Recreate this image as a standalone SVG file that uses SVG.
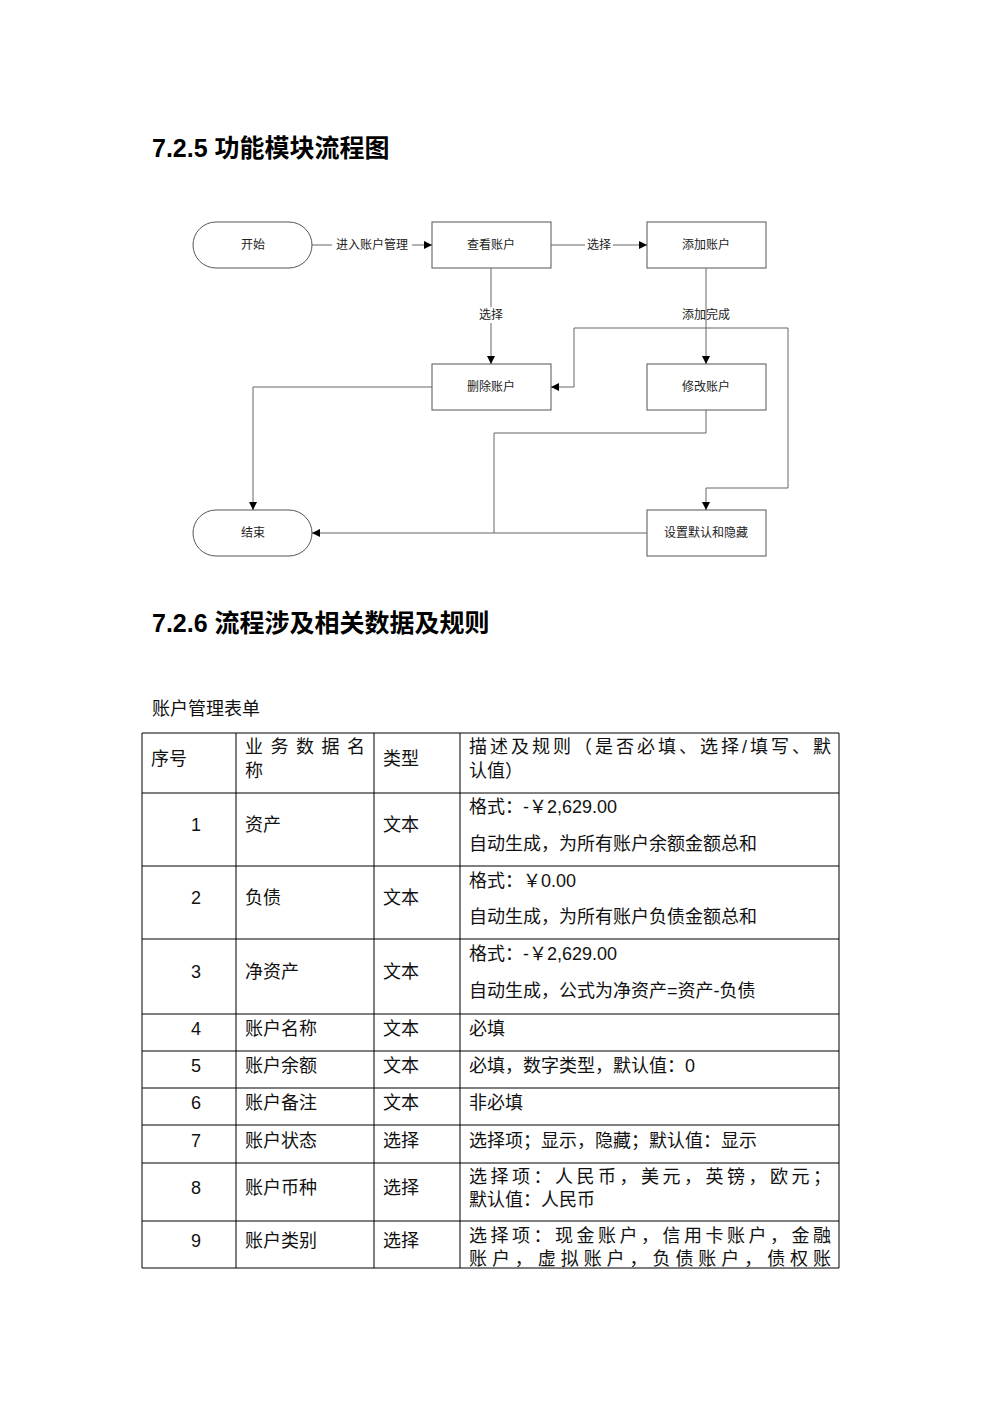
<svg xmlns="http://www.w3.org/2000/svg" width="1000" height="1415" viewBox="0 0 1000 1415">
<style>
.n{fill:#fff;stroke:#555;stroke-width:1}
.nt{font-family:"Liberation Serif","Noto Sans CJK SC",serif;font-size:12px;text-anchor:middle;fill:#222}
.c{fill:none;stroke:#666;stroke-width:1}
.lb{font-family:"Liberation Serif","Noto Sans CJK SC",serif;font-size:12px;text-anchor:middle;fill:#222}
.h{font-family:"Liberation Sans","Noto Sans CJK SC",sans-serif;font-size:25px;font-weight:bold;fill:#000}
.t{font-family:"Liberation Sans","Noto Sans CJK SC",sans-serif;font-size:18px;fill:#111}
.g{stroke:#000;stroke-width:1;fill:none}
</style>
<defs><marker id="a" viewBox="0 0 10 10" refX="10" refY="5" markerWidth="8" markerHeight="8" orient="auto-start-reverse"><path d="M0,0L10,5L0,10z" fill="#000"/></marker></defs>
<rect width="1000" height="1415" fill="#fff"/>
<text class="h" x="152" y="157">7.2.5 功能模块流程图</text>
<g id="start"><rect class="n" x="193" y="222" width="119" height="46" rx="23"/><text class="nt" x="253" y="249">开始</text></g>
<g id="view"><rect class="n" x="432" y="222" width="119" height="46"/><text class="nt" x="491" y="249">查看账户</text></g>
<g id="add"><rect class="n" x="647" y="222" width="119" height="46"/><text class="nt" x="706" y="249">添加账户</text></g>
<g id="del"><rect class="n" x="432" y="364" width="119" height="46"/><text class="nt" x="491" y="391">删除账户</text></g>
<g id="mod"><rect class="n" x="647" y="364" width="119" height="46"/><text class="nt" x="706" y="391">修改账户</text></g>
<g id="end"><rect class="n" x="193" y="510" width="119" height="46" rx="23"/><text class="nt" x="253" y="537">结束</text></g>
<g id="set"><rect class="n" x="647" y="510" width="119" height="46"/><text class="nt" x="706" y="537">设置默认和隐藏</text></g>
<g id="connectors">
<path class="c" d="M312,245H432" marker-end="url(#a)"/>
<rect x="332" y="237" width="80" height="16" fill="#fff"/><text class="lb" x="372" y="249">进入账户管理</text>
<path class="c" d="M551,245H647" marker-end="url(#a)"/>
<rect x="585" y="237" width="28" height="16" fill="#fff"/><text class="lb" x="599" y="249">选择</text>
<path class="c" d="M491,268V364" marker-end="url(#a)"/>
<rect x="477" y="307" width="28" height="16" fill="#fff"/><text class="lb" x="491" y="319">选择</text>
<path class="c" d="M706,268V364" marker-end="url(#a)"/>
<path class="c" d="M706,488H788V328H574V387H551" marker-end="url(#a)"/>
<path class="c" d="M706,488V510" marker-end="url(#a)"/>
<text class="lb" x="706" y="319">添加完成</text>
<path class="c" d="M432,387H253V510" marker-end="url(#a)"/>
<path class="c" d="M706,410V433H494V533"/>
<path class="c" d="M647,533H312" marker-end="url(#a)"/>
</g>
<text class="h" x="152" y="632">7.2.6 流程涉及相关数据及规则</text>
<text class="t" x="152" y="715">账户管理表单</text>
<g id="table">
<path class="g" d="M142,733H839M142,793H839M142,866H839M142,939H839M142,1014H839M142,1051H839M142,1088H839M142,1125H839M142,1163H839M142,1221H839M142,1268H839M142,733V1268M236,733V1268M374,733V1268M460,733V1268M839,733V1268"/>
<text class="t" x="151" y="765">序号</text>
<text class="t" x="245" y="753" textLength="120">业务数据名</text><text class="t" x="245" y="777">称</text>
<text class="t" x="383" y="765">类型</text>
<text class="t" x="469" y="753" textLength="362">描述及规则（是否必填、选择/填写、默</text><text class="t" x="469" y="777">认值）</text>
<g class="t" text-anchor="middle">
<text x="196" y="831">1</text><text x="196" y="904">2</text><text x="196" y="978">3</text><text x="196" y="1035">4</text><text x="196" y="1072">5</text><text x="196" y="1109">6</text><text x="196" y="1147">7</text><text x="196" y="1194">8</text><text x="196" y="1247">9</text>
</g>
<text class="t" x="245" y="831">资产</text><text class="t" x="383" y="831">文本</text>
<text class="t" x="469" y="813">格式：-￥2,629.00</text><text class="t" x="469" y="850">自动生成，为所有账户余额金额总和</text>
<text class="t" x="245" y="904">负债</text><text class="t" x="383" y="904">文本</text>
<text class="t" x="469" y="887">格式：￥0.00</text><text class="t" x="469" y="923">自动生成，为所有账户负债金额总和</text>
<text class="t" x="245" y="978">净资产</text><text class="t" x="383" y="978">文本</text>
<text class="t" x="469" y="960">格式：-￥2,629.00</text><text class="t" x="469" y="997">自动生成，公式为净资产=资产-负债</text>
<text class="t" x="245" y="1035">账户名称</text><text class="t" x="383" y="1035">文本</text><text class="t" x="469" y="1035">必填</text>
<text class="t" x="245" y="1072">账户余额</text><text class="t" x="383" y="1072">文本</text><text class="t" x="469" y="1072">必填，数字类型，默认值：0</text>
<text class="t" x="245" y="1109">账户备注</text><text class="t" x="383" y="1109">文本</text><text class="t" x="469" y="1109">非必填</text>
<text class="t" x="245" y="1147">账户状态</text><text class="t" x="383" y="1147">选择</text><text class="t" x="469" y="1147">选择项；显示，隐藏；默认值：显示</text>
<text class="t" x="245" y="1194">账户币种</text><text class="t" x="383" y="1194">选择</text>
<text class="t" x="469" y="1183" textLength="362">选择项：人民币，美元，英镑，欧元；</text><text class="t" x="469" y="1206">默认值：人民币</text>
<text class="t" x="245" y="1247">账户类别</text><text class="t" x="383" y="1247">选择</text>
<text class="t" x="469" y="1242" textLength="362">选择项：现金账户，信用卡账户，金融</text><text class="t" x="469" y="1265" textLength="362">账户，虚拟账户，负债账户，债权账</text>
</g>
</svg>
